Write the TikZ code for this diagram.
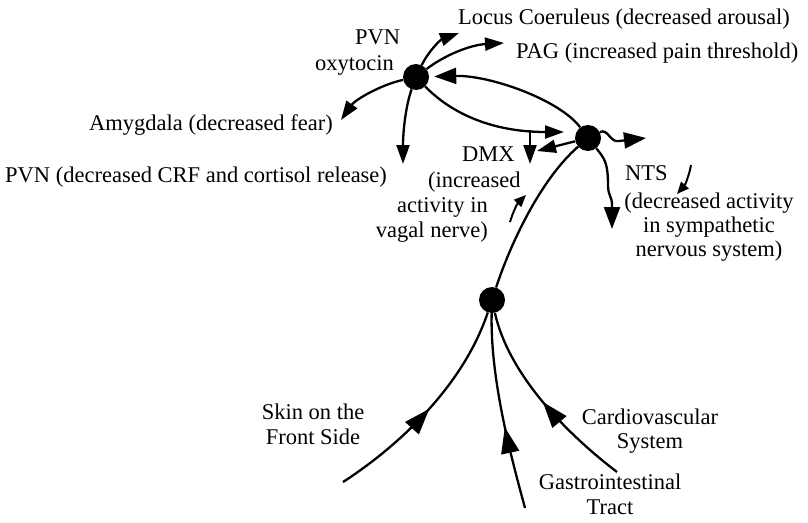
\documentclass[tikz,border=0pt]{standalone}
\usepackage{fontspec}
\setmainfont{Liberation Serif}
\usetikzlibrary{arrows.meta,decorations.markings}
\begin{document}
\begin{tikzpicture}[x=1pt,y=-1pt,
  dot/.style={circle,fill=black,minimum size=26pt,inner sep=0pt},
  lbl/.style={inner sep=0pt,font=\fontsize{22.5}{25}\selectfont},
  ln/.style={line width=2.3pt},
  arr/.style={ln,-{Triangle[length=19pt,width=13pt]}},
  bigarr/.style={ln,-{Triangle[length=22pt,width=16pt]}},
  smarr/.style={line width=2pt,-{Triangle[length=12pt,width=10pt]}},
  midarr/.style={ln,postaction={decorate},decoration={markings,mark=at position #1 with {\arrow{Triangle[length=26pt,width=18pt]}}}},
]
\useasboundingbox (0,0) rectangle (808,522);

% hubs
\node[dot] (A) at (416,77) {};
\node[dot] (B) at (588,138) {};
\node[dot] (C) at (492,300) {};

% labels
\node[lbl,anchor=base west] (lc) at (458,24) {Locus Coeruleus (decreased arousal)};
\node[lbl,anchor=base west] (pag) at (516,58) {PAG (increased pain threshold)};
\node[lbl,anchor=base west] (pvn) at (355,44) {PVN};
\node[lbl,anchor=base west] (oxy) at (315,70) {oxytocin};
\node[lbl,anchor=base west] (amy) at (89,130) {Amygdala (decreased fear)};
\node[lbl,anchor=base west] (pvn2) at (5,182) {PVN (decreased CRF and cortisol release)};
\node[lbl,anchor=base west] (dmx) at (462,161) {DMX};
\node[lbl,anchor=base west] (dmx1) at (428,187) {(increased};
\node[lbl,anchor=base east] (dmx2) at (488,212) {activity in};
\node[lbl,anchor=base east] (dmx3) at (488,237) {vagal nerve)};
\node[lbl,anchor=base west] (nts) at (625,180) {NTS};
\node[lbl,anchor=base] (nts1) at (709,208) {(decreased activity};
\node[lbl,anchor=base] (nts2) at (709,232) {in sympathetic};
\node[lbl,anchor=base] (nts3) at (709,256) {nervous system)};
\node[lbl,anchor=base] (skin1) at (313,419) {Skin on the};
\node[lbl,anchor=base] (skin2) at (313,444) {Front Side};
\node[lbl,anchor=base] (cv1) at (650,424) {Cardiovascular};
\node[lbl,anchor=base] (cv2) at (650,448) {System};
\node[lbl,anchor=base] (gi1) at (610,489) {Gastrointestinal};
\node[lbl,anchor=base] (gi2) at (610,514) {Tract};

% free ends
\coordinate (lcTip) at (459,33);
\coordinate (pagTip) at (504,43);
\coordinate (amyTip) at (341,120);
\coordinate (pvnTip) at (403,164);
\coordinate (bTip) at (564,132);
\coordinate (t1) at (530,130);
\coordinate (dmxTip) at (530,164);
\coordinate (dmxTip2) at (537,151);
\coordinate (rTip) at (646,138);
\coordinate (ntsTip) at (612,229);
\coordinate (s1a) at (510,222);
\coordinate (s1b) at (526,195);
\coordinate (s2a) at (691,165);
\coordinate (s2b) at (677,194);
\coordinate (skinT) at (343,482);
\coordinate (giT) at (525,508);
\coordinate (cvT) at (617,472);

% from PVN oxytocin
\draw[arr] (A) .. controls (428,52) and (440,40) .. (lcTip);
\draw[arr] (A) .. controls (445,55) and (470,45) .. (pagTip);
\draw[arr] (A) .. controls (380,85) and (355,100) .. (amyTip);
\draw[arr] (A) .. controls (406,105) and (403,130) .. (pvnTip);
\draw[arr] (A) .. controls (450,112) and (490,132) .. (bTip);
\draw[arr] (t1) -- (dmxTip);

% from DMX/NTS hub
\draw[bigarr,shorten >=5pt] (B) .. controls (560,100) and (490,75) .. (A);
\draw[arr] (B) -- (dmxTip2);
\draw[bigarr] (B) .. controls (608,128) and (610,143) .. (619,141) -- (rTip);
\draw[bigarr] (B) .. controls (604,158) and (608,162) .. (608,185) .. controls (608,196) and (612,196) .. (612,205) -- (ntsTip);

% small arrows
\draw[smarr] (s1a) .. controls (513,212) and (517,204) .. (s1b);
\draw[smarr] (s2a) .. controls (689,176) and (685,185) .. (s2b);

% trunk
\draw[ln] (C) .. controls (510,245) and (540,180) .. (B);

% afferents
\draw[midarr=0.5] (skinT) .. controls (385,455) and (460,395) .. (C);
\draw[midarr=0.42] (giT) .. controls (512,460) and (490,380) .. (C);
\draw[midarr=0.5] (cvT) .. controls (575,440) and (510,380) .. (C);
\end{tikzpicture}
\end{document}
